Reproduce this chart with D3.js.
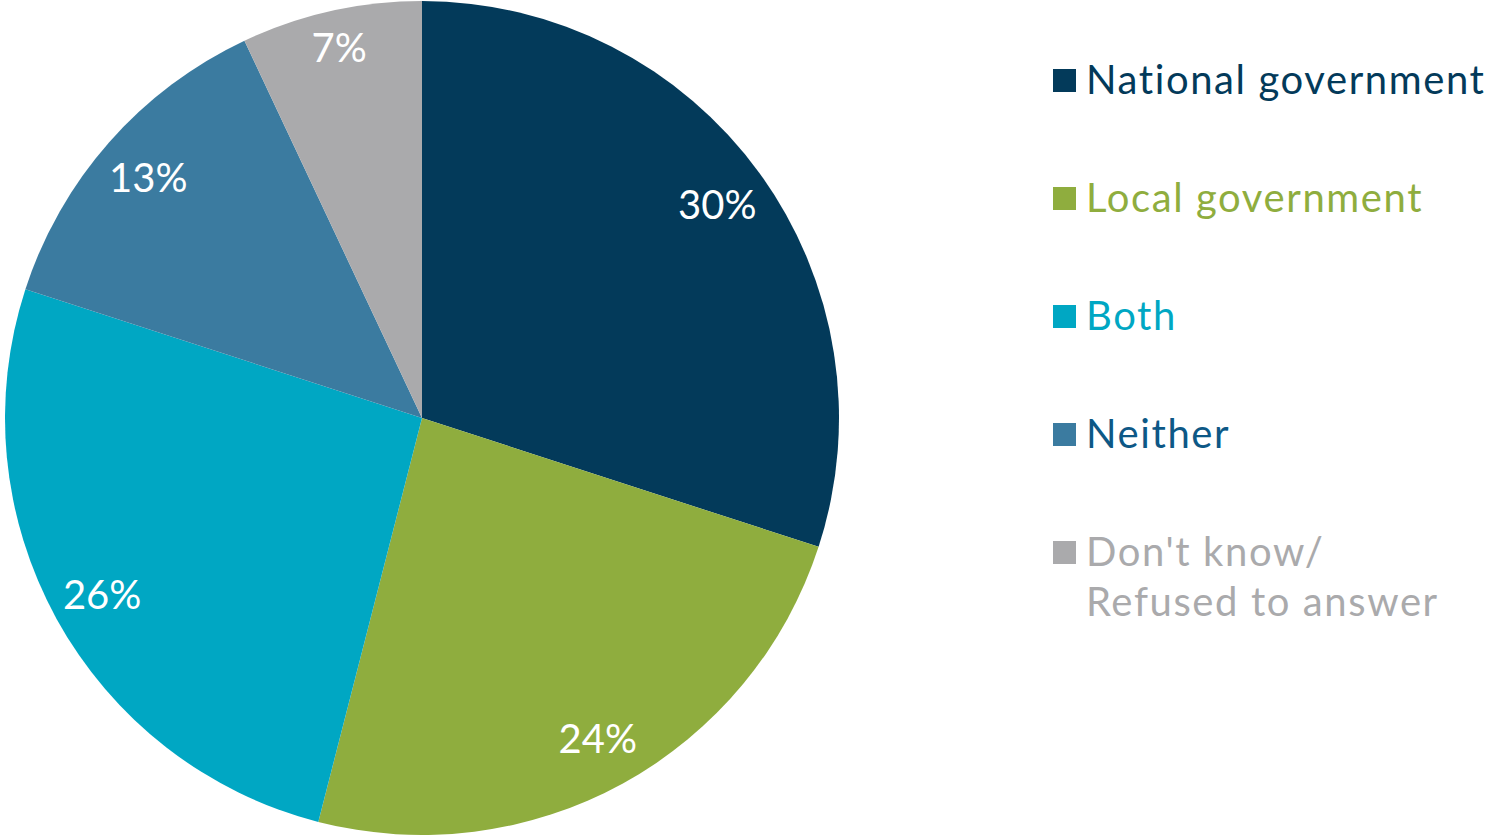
<!DOCTYPE html>
<html>
<head>
<meta charset="utf-8">
<script src="https://cdn.jsdelivr.net/npm/d3@7"></script>
<style>
html,body{margin:0;padding:0;background:#fff;}
svg{display:block;}
</style>
</head>
<body>
<svg id="chart" width="1489" height="836"></svg>
<script>
const categories = ["National government", "Local government", "Both", "Neither", "Don't know/\nRefused to answer"];
const values = [30, 24, 26, 13, 7];
const sliceColors = ["#033A5A", "#8FAD3E", "#00A7C3", "#3B7BA0", "#AAAAAC"];
const legendTextColors = ["#033A5A", "#8FAD3E", "#00A7C3", "#0D5886", "#AAAAAC"];

const FONT = "Lato, 'Open Sans', sans-serif";
const svg = d3.select("#chart");
const cx = 422, cy = 418, R = 417;

const pie = d3.pie().sort(null).value(d => d)(values);
const arc = d3.arc().innerRadius(0).outerRadius(R);

const g = svg.append("g").attr("transform", `translate(${cx},${cy})`);
g.selectAll("path").data(pie).enter().append("path")
  .attr("d", arc)
  .attr("fill", (d, i) => sliceColors[i]);

g.selectAll("text.pct").data(pie).enter().append("text")
  .attr("class", "pct")
  .attr("transform", d => {
    const r = d.data < 10 ? 380 : 365;
    return `translate(${d3.arc().innerRadius(r).outerRadius(r).centroid(d)})`;
  })
  .attr("text-anchor", "middle")
  .attr("dy", "0.38em")
  .attr("fill", "#fff")
  .style("font-family", FONT)
  .style("font-size", "40px")
  .text(d => d.data + "%");

const lg = svg.append("g");
const yScale = d3.scalePoint().domain(d3.range(categories.length)).range([80, 80 + 118 * 4]);
categories.forEach((c, i) => {
  const y = yScale(i);
  lg.append("rect").attr("x", 1053).attr("y", y - 11).attr("width", 23).attr("height", 23)
    .attr("fill", sliceColors[i]);
  const t = lg.append("text")
    .attr("x", 1086).attr("y", y + 14)
    .attr("fill", legendTextColors[i])
    .style("font-family", FONT)
    .style("font-size", "40px")
    .style("letter-spacing", "1.6px");
  c.split("\n").forEach((line, j) => {
    t.append("tspan").attr("x", 1086).attr("dy", j === 0 ? 0 : 50).text(line);
  });
});
</script>
</body>
</html>
